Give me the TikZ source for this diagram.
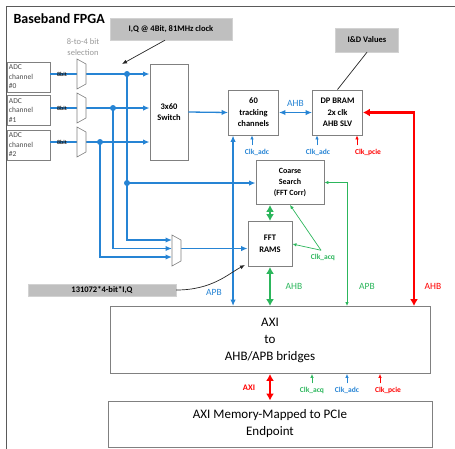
\documentclass[tikz,border=0pt]{standalone}
\usepackage{fontspec}
\setmainfont{Carlito}
\usetikzlibrary{calc}
\usetikzlibrary{arrows.meta}

\definecolor{busblue}{RGB}{38,132,212}
\definecolor{busgreen}{RGB}{44,182,92}
\definecolor{busred}{RGB}{255,0,0}
\definecolor{notegray}{RGB}{191,191,191}
\definecolor{boxline}{RGB}{128,128,128}

\begin{document}
\begin{tikzpicture}[x=1pt, y=-1pt,%
  block/.style={rectangle,
                draw=boxline,
                line width=0.9pt,
                fill=white,
                align=center,
                inner sep=1pt,
                font=\bfseries\fontsize{8.5}{11.5}\selectfont
  },
  bigblock/.style={block, font=\fontsize{13}{17}\selectfont},
  adc/.style={block, align=left, text width=39pt, inner sep=2pt,
              minimum height=30pt, text=black!70,
              font=\fontsize{7.5}{9.5}\selectfont},
  note/.style={rectangle, fill=notegray, draw=notegray!70,
               font=\bfseries\fontsize{8.5}{10}\selectfont},
  mux/.style={draw=boxline, line width=0.6pt, fill=white},
  bus/.style={draw=busblue, line width=1.3pt, >={Latex[length=6.5pt,width=5.5pt]}},
  clk/.style={line width=0.7pt, >={Latex[length=4pt,width=3.5pt]}},
  thickbus/.style={line width=2.6pt, >={Latex[length=7pt,width=8pt]}},
  pointer/.style={draw=black!85, line width=0.7pt, ->, >={Latex[length=5pt,width=4pt]}},
  clklbl/.style={font=\bfseries\fontsize{7.5}{9}\selectfont},
  buslbl/.style={font=\fontsize{9.5}{11}\selectfont},
  bitlbl/.style={font=\bfseries\fontsize{6}{7}\selectfont, text=black!90, inner sep=0pt}
]
\useasboundingbox (0,0) rectangle (455,448);
\draw [boxline!70!black, line width=0.9pt] (6,470) -- (6,6) -- (480,6);

\node [anchor=west, font=\bfseries\fontsize{14}{17}\selectfont] (title) at (10,19) {Baseband FPGA};
\node [note, minimum width=122pt, minimum height=22pt] (iqnote) at (171,29) {I,Q @ 4Bit, 81MHz clock};
\node [note, minimum width=63pt, minimum height=24pt] (idnote) at (367,40) {I\&D Values};
\node [note, minimum width=148pt, minimum height=12pt, inner sep=0pt] (qnote) at (102,290) {131072*4-bit*I,Q};
\node [align=center, text=black!40, font=\fontsize{8.5}{11}\selectfont] (sel) at (83,47) {8-to-4 bit\\selection};

% ADC inputs and 8-to-4 selection
\node [adc] (adc0) at (28.5,77) {ADC\\channel\\\#0};
\node [adc] (adc1) at (28.5,110.5) {ADC\\channel\\\#1};
\node [adc] (adc2) at (28.5,145) {ADC\\channel\\\#2};

\coordinate (m0in) at (77,74);   \coordinate (m0out) at (86,74);
\coordinate (m1in) at (77,108);  \coordinate (m1out) at (86,108);
\coordinate (m2in) at (77,142);  \coordinate (m2out) at (86,142);
\coordinate (d0) at (127,74);
\coordinate (d1) at (113,108);
\coordinate (d2) at (100,142);
\coordinate (d3) at (127,183);

\node [block, minimum width=38pt, minimum height=96pt] (switch) at (169,112) {3x60\\Switch};
\node [block, minimum width=50pt, minimum height=45pt] (track) at (253.5,112.5) {60\\tracking\\channels};
\node [block, minimum width=50pt, minimum height=45pt] (bram) at (337.5,112.5) {DP BRAM\\2x clk\\AHB SLV};
\node [block, minimum width=68pt, minimum height=44pt, font=\bfseries\fontsize{8}{11}\selectfont] (coarse) at (290,182.5) {Coarse\\Search\\(FFT Corr)};
\node [block, minimum width=44pt, minimum height=45pt] (fftram) at (270,244) {FFT\\RAMS};
\node [bigblock, minimum width=320pt, minimum height=67pt] (axi) at (270,340) {AXI\\to\\AHB/APB bridges};
\node [bigblock, minimum width=324pt, minimum height=46pt] (pcie) at (270,424) {AXI Memory-Mapped to PCIe\\Endpoint};

\draw [bus] (adc0.east |- m0in) -- (m0in);
\draw [bus] (adc1.east |- m1in) -- (m1in);
\draw [bus] (adc2.east |- m2in) -- (m2in);
\node [bitlbl] (b0) at (62,74) {8bit};
\node [bitlbl] (b1) at (62,108) {8bit};
\node [bitlbl] (b2) at (62,142) {8bit};

\draw [bus, ->] (m0out) -- (switch.west |- m0out);
\draw [bus, ->] (m1out) -- (switch.west |- m1out);
\draw [bus, ->] (m2out) -- (switch.west |- m2out);

% taps towards the FFT path
\coordinate (s0) at (172,240);
\coordinate (s1) at (172,248.5);
\coordinate (s2) at (172,257);
\coordinate (sout) at (181,248.5);
\draw [bus, ->] (d0) |- (s0);
\draw [bus, ->] (d1) |- (s1);
\draw [bus, ->] (d2) |- (s2);
\draw [bus, ->] (d3) -- (coarse.west |- d3);
\draw [bus, ->] (sout) -- (fftram.west |- sout);
\foreach \d in {d0,d1,d2,d3}
  \fill [busblue] (\d) circle (3pt);

\draw [mux] (77,59) -- (86,64) -- (86,84) -- (77,89) -- cycle;
\draw [mux] (77,93) -- (86,98) -- (86,118) -- (77,123) -- cycle;
\draw [mux] (77,127) -- (86,132) -- (86,152) -- (77,157) -- cycle;
\draw [mux] (172,235) -- (181,240) -- (181,261) -- (172,266) -- cycle;

\draw [bus, ->] (switch.east) -- (track.west);
\draw [bus, <->] (track.east) -- (bram.west)
   node [midway, above, buslbl, text=busblue, yshift=2pt] (ahb1) {AHB};

% APB to tracking channels
\coordinate (apb) at ($(track.south west) + (5,0)$);
\draw [bus, <->] (axi.north -| apb) -- (apb);
\node [buslbl, text=busblue] (apblbl) at (214,292) {APB};

% clocks of the upper blocks
\node [clklbl, text=busblue] (clkt) at (257,152) {Clk\_adc};
\node [clklbl, text=busblue] (clkb) at (318,152) {Clk\_adc};
\node [clklbl, text=busred] (clkp) at (368,152) {Clk\_pcie};
\draw [clk, busblue, ->] ($(clkt.north) + (-5,0)$) -- (track.south -| 252,0);
\draw [clk, busblue, ->] (clkb.north -| 317,0) -- (bram.south -| 317,0);
\draw [clk, busred, ->] (clkp.north -| 357,0) -- (bram.south -| 357,0);

\draw [black!85, line width=0.7pt] (idnote.south) -- (bram.north);
\coordinate (iqtip) at (122,64);
\draw [pointer] ($(iqnote.south) + (-6,0)$) -- (iqtip);
\coordinate (qtip) at (245,265);
\draw [pointer] (qnote.east) .. controls (212,290) and (228,274) .. (qtip);

% AHB from DP BRAM
\draw [thickbus, busred, <->] (axi.north -| 414,0) |- (bram.east);
\node [buslbl, text=busred] (ahb3) at (433,286) {AHB};

% coarse search and FFT RAMS
\draw [clk, busgreen, line width=1pt, <->] (axi.north -| 347,0) |- (coarse.east);
\node [buslbl, text=busgreen] (apb2) at (367,286) {APB};
\draw [thickbus, busgreen, <->] (fftram.north |- coarse.south) -- (fftram.north);
\draw [thickbus, busgreen, <->] (fftram.south) -- (axi.north -| fftram.south);
\node [buslbl, text=busgreen] (ahb2) at (294,286) {AHB};
\node [clklbl, text=busgreen] (clka) at (323,257) {Clk\_acq};
\draw [clk, busgreen, ->] ($(clka.north) + (-2,0)$) -- (coarse.south);
\draw [clk, busgreen, ->] ($(clka.north) + (-2,0)$) -- (fftram.east);

% AXI to PCIe
\draw [thickbus, busred, <->] (axi.south) -- (pcie.north);
\node [buslbl, text=busred, font=\bfseries\fontsize{8.5}{10}\selectfont] (axilbl) at (249,388) {AXI};
\node [clklbl, text=busgreen] (clka2) at (312,390) {Clk\_acq};
\node [clklbl, text=busblue] (clkd2) at (347,390) {Clk\_adc};
\node [clklbl, text=busred] (clkp2) at (388,390) {Clk\_pcie};
\draw [clk, busgreen, ->] (clka2.north) -- (axi.south -| clka2.north);
\draw [clk, busblue, ->] (clkd2.north) -- (axi.south -| clkd2.north);
\draw [clk, busred, ->] (clkp2.north -| 380,0) -- (axi.south -| 380,0);

\end{tikzpicture}
\end{document}
